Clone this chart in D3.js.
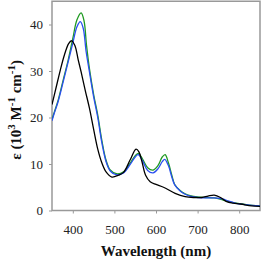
<!DOCTYPE html>
<html><head><meta charset="utf-8">
<script src="https://cdn.jsdelivr.net/npm/d3@7"></script>
<style>body{margin:0;background:#fff}svg{display:block}svg text{font-family:'Liberation Serif','DejaVu Serif','Times New Roman',serif}</style>
</head><body><svg id="c" width="263" height="261"></svg>
<script>
const xTicks = [400, 500, 600, 700, 800];
const yTicks = [0, 10, 20, 30, 40];
const blackWl = [350,360,370,380,390,397,405,413,420,430,440,450,460,470,480,494,510,522,538,552,559,566,575,586,600,618,646,670,690,710,725,740,755,770,785,803,830,850];
const blackEps = [22.8,26.5,30.2,33.5,35.9,36.5,35.5,32.4,29.8,25.8,22,17.5,13.2,10.2,8.3,7.2,7.6,8.2,10.9,13.2,12.6,10.6,7.6,6.2,5.6,5.0,3.7,3.0,2.8,2.8,3.1,3.3,2.8,1.9,1.6,1.4,1.0,0.9];
const greenWl = [350,355,365,377,389,400,410,420,427,433,440,450,460,470,480,490,505,522,538,550,558,568,580,593,605,615,622,630,638,645,658,670,682,700,720,740,760,780,800,820,850];
const greenEps = [19.6,21,23.8,28.1,32.4,37,41,42.5,40.8,35.5,30.5,25,20.5,15,10.8,8.7,7.9,8.3,10.2,11.8,12.3,11,9.2,8.7,9.7,11.5,12.0,10.2,7.6,5.6,4.3,3.6,3.2,2.9,2.8,2.7,2.3,1.8,1.5,1.2,1.0];
const blueWl = [350,355,365,377,389,400,410,418,425,432,440,450,460,470,480,490,504,522,538,550,557,568,580,593,605,615,621,630,638,645,658,670,682,700,720,740,760,775,790,810,830,850];
const blueEps = [19.3,20.8,23.5,27.7,32,36,39.5,40.6,39.2,34.2,29.8,24.5,20,14.5,10.5,8.5,7.7,8.1,9.9,11.5,12.0,10.6,8.6,8.1,9.0,10.5,11.0,9.6,7.2,5.5,4.2,3.5,3.1,2.8,2.7,2.7,2.5,2.0,1.6,1.3,1.1,1.0];

const svg = d3.select('#c');
const L = 52, R = 260, T = 1.25, B = 210.5;
const x = d3.scaleLinear().domain([350, 850]).range([L, R]);
const y = d3.scaleLinear().domain([0, 45]).range([B, T]);
const axisColor = '#999';

const xa = svg.append('g').attr('transform', `translate(0,${B})`)
  .call(d3.axisBottom(x).tickValues(xTicks).tickSize(3).tickPadding(11));
const ya = svg.append('g').attr('transform', `translate(${L},0)`)
  .call(d3.axisLeft(y).tickValues(yTicks).tickSize(3).tickPadding(6));
[xa, ya].forEach(a => {
  a.attr('font-family', null);
  a.select('.domain').remove();
  a.selectAll('line').attr('stroke', axisColor);
  a.selectAll('text').attr('font-size', 13).attr('fill', '#222');
});

svg.append('rect').attr('x', L).attr('y', T).attr('width', R - L).attr('height', B - T)
  .attr('fill', 'none').attr('stroke', axisColor).attr('stroke-width', 1.5);

const series = [
  {wl: greenWl, v: greenEps, c: '#1f9a22'},
  {wl: blueWl, v: blueEps, c: '#2a4ff0'},
  {wl: blackWl, v: blackEps, c: '#000'}
];
const line = d3.line().x(d => x(d[0])).y(d => y(d[1])).curve(d3.curveCatmullRom.alpha(0.5));
svg.append('clipPath').attr('id', 'cp').append('rect')
  .attr('x', L).attr('y', T).attr('width', R - L).attr('height', B - T);
series.forEach(s => {
  svg.append('path').attr('clip-path', 'url(#cp)')
    .datum(s.wl.map((w, i) => [w, s.v[i]]))
    .attr('d', line).attr('fill', 'none').attr('stroke', s.c).attr('stroke-width', 1.3);
});

svg.append('text').attr('x', (L + R) / 2).attr('y', 256).attr('text-anchor', 'middle')
  .attr('font-size', 15).attr('font-weight', 'bold').attr('fill', '#111')
  .text('Wavelength (nm)');

const yl = svg.append('text').attr('transform', `translate(21,${(T + B) / 2 + 4}) rotate(-90)`)
  .attr('text-anchor', 'middle').attr('font-size', 15)
  .attr('font-weight', 'bold').attr('fill', '#111');
yl.append('tspan').text('ε (10');
yl.append('tspan').attr('dy', -6).attr('font-size', 11).text('3');
yl.append('tspan').attr('dy', 6).text(' M');
yl.append('tspan').attr('dy', -6).attr('font-size', 11).text('-1');
yl.append('tspan').attr('dy', 6).text(' cm');
yl.append('tspan').attr('dy', -6).attr('font-size', 11).text('-1');
yl.append('tspan').attr('dy', 6).text(')');
</script></body></html>
